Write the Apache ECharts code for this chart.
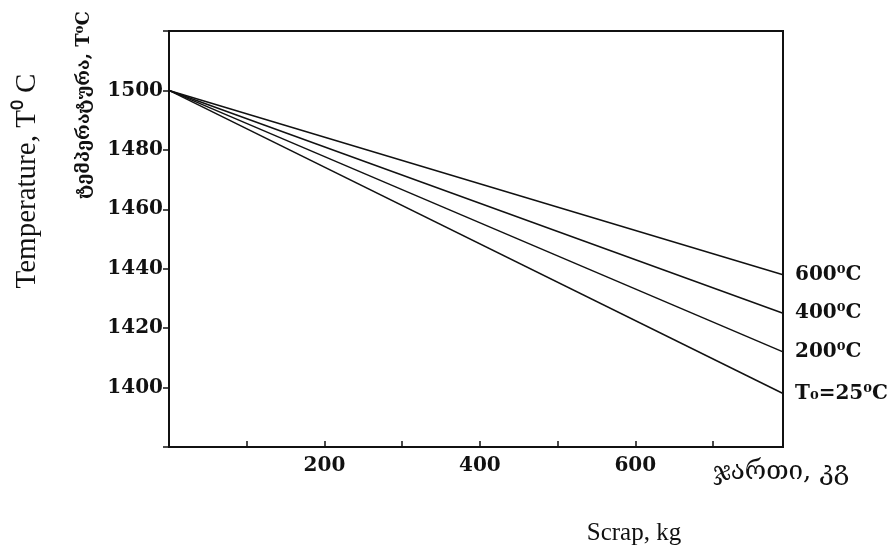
<!DOCTYPE html>
<html>
<head>
<meta charset="utf-8">
<script src="https://cdn.jsdelivr.net/npm/echarts@6/dist/echarts.min.js"></script>
<style>
  html, body { margin: 0; padding: 0; background: #fff; }
  #chart { width: 889px; height: 552px; }
</style>
</head>
<body>
<div id="chart"></div>
<script>
// scrap added (kg) at the two ends of each line
const scrapKg = [0, 790];
// melt temperature at those points, one list per scrap preheat temperature
const temp600 = [1500, 1438];
const temp400 = [1500, 1425];
const temp200 = [1500, 1412];
const temp25 = [1500, 1398];
const lineNames = ['600⁰C', '400⁰C', '200⁰C', 'T₀=25⁰C'];
const xTickLabels = [200, 400, 600];
const yTickLabels = [1400, 1420, 1440, 1460, 1480, 1500];

const serif = "'DejaVu Serif', 'DejaVu Sans', serif";
const chart = echarts.init(document.getElementById('chart'));

const makeLine = (name, temps) => ({
  name: name,
  type: 'line',
  data: scrapKg.map((x, i) => [x, temps[i]]),
  symbol: 'none',
  lineStyle: { color: '#111', width: 1.5 },
  endLabel: {
    show: true,
    formatter: name,
    distance: 12,
    color: '#111',
    fontFamily: serif,
    fontWeight: 'bold',
    fontSize: 20
  },
  animation: false
});

chart.setOption({
  backgroundColor: '#fff',
  animation: false,
  grid: {
    left: 169, right: 106, top: 31, bottom: 105,
    show: true, borderColor: '#111', borderWidth: 2
  },
  xAxis: {
    type: 'value',
    min: 0,
    max: 790,
    interval: 100,
    axisLine: { lineStyle: { color: '#111', width: 2 } },
    axisTick: { inside: true, length: 6, lineStyle: { color: '#111', width: 1.5 } },
    axisLabel: {
      margin: 9,
      color: '#111',
      fontFamily: serif,
      fontWeight: 'bold',
      fontSize: 20,
      formatter: v => (xTickLabels.includes(v) ? String(v) : '')
    },
    splitLine: { show: false }
  },
  yAxis: {
    type: 'value',
    min: 1380,
    max: 1520,
    interval: 20,
    axisLine: { show: true, lineStyle: { color: '#111', width: 2 } },
    axisTick: { show: true, length: 6, lineStyle: { color: '#111', width: 1.5 } },
    axisLabel: {
      margin: 6,
      color: '#111',
      fontFamily: serif,
      fontWeight: 'bold',
      fontSize: 20,
      formatter: v => (yTickLabels.includes(v) ? String(v) : '')
    },
    splitLine: { show: false }
  },
  graphic: [
    {
      type: 'text', x: 27, y: 181, rotation: Math.PI / 2,
      style: {
        text: 'Temperature, T⁰ C', align: 'center', verticalAlign: 'middle',
        fill: '#111', font: "29px 'Liberation Serif', serif"
      }
    },
    {
      type: 'text', x: 84, y: 105, rotation: Math.PI / 2,
      style: {
        text: 'ტემპერატურა, T⁰C', align: 'center', verticalAlign: 'middle',
        fill: '#111', font: "bold 18px " + serif
      }
    },
    {
      type: 'text', x: 781, y: 472,
      style: {
        text: 'ჯართი, კგ', align: 'center', verticalAlign: 'middle',
        fill: '#111', font: "26px " + serif
      }
    },
    {
      type: 'text', x: 634, y: 533,
      style: {
        text: 'Scrap, kg', align: 'center', verticalAlign: 'middle',
        fill: '#111', font: "25px 'Liberation Serif', serif"
      }
    }
  ],
  series: [
    makeLine(lineNames[0], temp600),
    makeLine(lineNames[1], temp400),
    makeLine(lineNames[2], temp200),
    makeLine(lineNames[3], temp25)
  ]
});
</script>
</body>
</html>
